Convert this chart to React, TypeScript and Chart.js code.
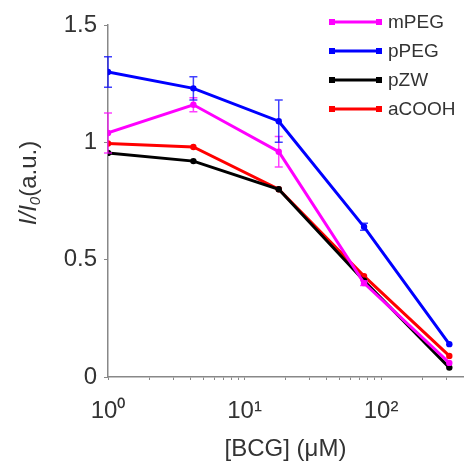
import React, { useEffect, useRef } from "react";
import { Chart, registerables } from "chart.js";
Chart.register(...registerables);

const concentrations = [1, 4.22, 17.8, 75, 316];
const seriesNames = ["mPEG", "pPEG", "pZW", "aCOOH"];
const seriesColors = ["#ff00ff", "#0000ff", "#000000", "#ff0000"];
const mPEG = [1.04, 1.16, 0.96, 0.40, 0.06];
const pPEG = [1.30, 1.23, 1.09, 0.64, 0.14];
const pZW = [0.955, 0.92, 0.80, 0.41, 0.04];
const aCOOH = [0.995, 0.98, 0.80, 0.43, 0.09];
const mPEGErr = [0.085, 0.03, 0.065, 0.01, 0];
const pPEGErr = [0.065, 0.05, 0.09, 0.015, 0];
const pZWErr = [0, 0, 0, 0, 0];
const aCOOHErr = [0, 0, 0, 0, 0];
const yTicks = [0, 0.5, 1, 1.5];
const xMajorTicks = [1, 10, 100];
const xTickLabels = ["10⁰", "10¹", "10²"];
const xTitle = "[BCG] (μM)";
const yTitleItalic = "I/I";
const yTitleSub = "0";
const yTitleRest = "(a.u.)";

const FONT = "'Liberation Sans', Arial, sans-serif";
const TEXT = "#333";

const errorBarPlugin = {
  id: "errorBars",
  afterDatasetsDraw(chart: any) {
    const { ctx, scales } = chart;
    chart.data.datasets.forEach((ds: any) => {
      const errs: number[] = ds.errors || [];
      ctx.save();
      ctx.strokeStyle = ds.borderColor;
      ctx.globalAlpha = 0.75;
      ctx.lineWidth = 1.5;
      ds.data.forEach((p: any, i: number) => {
        const e = errs[i];
        if (!e) return;
        const x = scales.x.getPixelForValue(p.x);
        const y1 = scales.y.getPixelForValue(p.y + e);
        const y2 = scales.y.getPixelForValue(p.y - e);
        ctx.beginPath();
        ctx.moveTo(x, y1);
        ctx.lineTo(x, y2);
        ctx.moveTo(x - 4, y1);
        ctx.lineTo(x + 4, y1);
        ctx.moveTo(x - 4, y2);
        ctx.lineTo(x + 4, y2);
        ctx.stroke();
      });
      ctx.restore();
    });
  },
};

const legendPlugin = {
  id: "customLegend",
  afterDraw(chart: any) {
    const { ctx } = chart;
    ctx.save();
    chart.data.datasets.forEach((ds: any, i: number) => {
      const y = 22 + i * 29;
      const x0 = 332;
      const x1 = 379;
      ctx.strokeStyle = ds.borderColor;
      ctx.fillStyle = ds.borderColor;
      ctx.lineWidth = 3;
      ctx.beginPath();
      ctx.moveTo(x0, y);
      ctx.lineTo(x1, y);
      ctx.stroke();
      ctx.fillRect(x0 - 3, y - 3, 6, 6);
      ctx.fillRect(x1 - 3, y - 3, 6, 6);
      ctx.fillStyle = TEXT;
      ctx.font = `19px ${FONT}`;
      ctx.textBaseline = "middle";
      ctx.textAlign = "left";
      ctx.fillText(ds.label, 388, y + 1);
    });
    ctx.restore();
  },
};

const yTitlePlugin = {
  id: "yTitle",
  afterDraw(chart: any) {
    const { ctx } = chart;
    ctx.save();
    ctx.translate(36, 183);
    ctx.rotate(-Math.PI / 2);
    ctx.fillStyle = TEXT;
    ctx.textBaseline = "alphabetic";
    ctx.textAlign = "left";
    const fItal = `italic 24px ${FONT}`;
    const fSub = `italic 15px ${FONT}`;
    const fNorm = `24px ${FONT}`;
    ctx.font = fItal;
    const w1 = ctx.measureText(yTitleItalic).width;
    ctx.font = fSub;
    const w2 = ctx.measureText(yTitleSub).width;
    ctx.font = fNorm;
    const w3 = ctx.measureText(yTitleRest).width;
    let x = -(w1 + w2 + w3) / 2;
    ctx.font = fItal;
    ctx.fillText(yTitleItalic, x, 0);
    x += w1;
    ctx.font = fSub;
    ctx.fillText(yTitleSub, x, 4);
    x += w2;
    ctx.font = fNorm;
    ctx.fillText(yTitleRest, x, 0);
    ctx.restore();
  },
};

export default function App() {
  const ref = useRef<HTMLCanvasElement>(null);
  useEffect(() => {
    const values = [mPEG, pPEG, pZW, aCOOH];
    const errs = [mPEGErr, pPEGErr, pZWErr, aCOOHErr];
    const chart = new Chart(ref.current!, {
      type: "line",
      data: {
        datasets: seriesNames.map((name, i) => ({
          label: name,
          data: concentrations.map((c, j) => ({ x: c, y: values[i][j] })),
          errors: errs[i],
          borderColor: seriesColors[i],
          backgroundColor: seriesColors[i],
          borderWidth: 3,
          pointRadius: 3.2,
          pointBorderWidth: 0,
          pointStyle: "circle",
          tension: 0,
        })) as any,
      },
      options: {
        animation: false,
        responsive: false,
        layout: { padding: { top: 25, right: 7, left: 0, bottom: 6 } },
        plugins: { legend: { display: false }, tooltip: { enabled: false } },
        scales: {
          x: {
            type: "logarithmic",
            min: 1,
            max: 398,
            border: { color: "#888", width: 1.5 },
            grid: { drawOnChartArea: false, color: "#888", tickLength: 3 },
            afterBuildTicks(scale: any) {
              const t: any[] = [];
              for (let d = 1; d <= 100; d *= 10) {
                for (let k = 1; k <= 9; k++) {
                  const v = d * k;
                  if (v <= 398) t.push({ value: v, major: k === 1 });
                }
              }
              scale.ticks = t;
            },
            ticks: {
              autoSkip: false,
              maxRotation: 0,
              padding: 17,
              color: TEXT,
              font: { family: FONT, size: 24 },
              callback(v: any) {
                const idx = xMajorTicks.indexOf(Number(v));
                return idx >= 0 ? xTickLabels[idx] : "";
              },
            },
            title: {
              display: true,
              text: xTitle,
              color: TEXT,
              font: { family: FONT, size: 24 },
              padding: { top: 2, bottom: 0 },
            },
            afterFit(scale: any) {
              scale.height = 87;
            },
          },
          y: {
            min: 0,
            max: 1.5,
            border: { color: "#888", width: 1.5 },
            grid: { drawOnChartArea: false, color: "#888", tickLength: 4 },
            afterBuildTicks(scale: any) {
              scale.ticks = yTicks.map((v) => ({ value: v }));
            },
            ticks: {
              padding: 7,
              color: TEXT,
              font: { family: FONT, size: 24 },
              callback(v: any) {
                return String(v);
              },
            },
            afterFit(scale: any) {
              scale.width = 108;
            },
          },
        },
      },
      plugins: [errorBarPlugin, legendPlugin, yTitlePlugin],
    });
    return () => chart.destroy();
  }, []);
  return (
    <div style={{ position: "fixed", left: 0, top: 0, width: 470, height: 470, background: "#fff" }}>
      <canvas ref={ref} width={470} height={470} />
    </div>
  );
}
